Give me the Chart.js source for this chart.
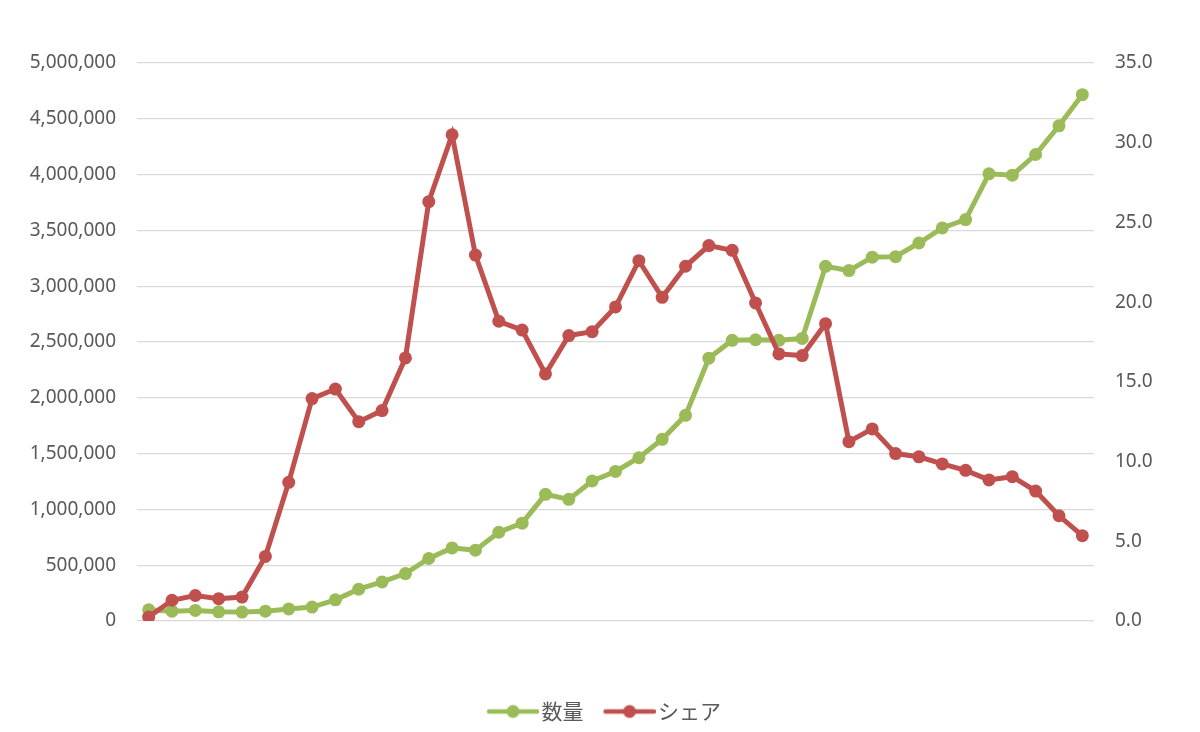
<!DOCTYPE html>
<html>
<head>
<meta charset="utf-8">
<script src="https://cdn.jsdelivr.net/npm/chart.js@4/dist/chart.umd.min.js"></script>
<style>
  html, body { margin: 0; padding: 0; background: #fff; }
  #wrap { width: 1200px; height: 732px; }
</style>
</head>
<body>
<div id="wrap"><canvas id="mainChart"></canvas></div>
<script>
const categories = [1, 2, 3, 4, 5, 6, 7, 8, 9, 10, 11, 12, 13, 14, 15, 16, 17, 18, 19, 20,
  21, 22, 23, 24, 25, 26, 27, 28, 29, 30, 31, 32, 33, 34, 35, 36, 37, 38, 39, 40, 41];

const quantity = [100000, 88000, 95000, 82000, 80000, 88000, 108000, 125000, 190000, 285000,
  350000, 425000, 560000, 655000, 635000, 795000, 877000, 1135000, 1090000, 1255000,
  1340000, 1463000, 1628000, 1843000, 2355000, 2515000, 2520000, 2515000, 2532000, 3178000,
  3140000, 3260000, 3265000, 3387000, 3522000, 3597000, 4007000, 3995000, 4180000, 4437000,
  4716000];

const share = [0.25, 1.3, 1.6, 1.4, 1.5, 4.05, 8.7, 13.95, 14.55, 12.5,
  13.2, 16.5, 26.3, 30.5, 22.95, 18.8, 18.25, 15.5, 17.9, 18.15,
  19.7, 22.6, 20.3, 22.25, 23.55, 23.25, 19.95, 16.75, 16.65, 18.65,
  11.25, 12.05, 10.5, 10.3, 9.85, 9.45, 8.85, 9.05, 8.15, 6.6,
  5.35];

const seriesNames = ["数量", "シェア"];
const leftTicks = [0, 500000, 1000000, 1500000, 2000000, 2500000, 3000000, 3500000, 4000000, 4500000, 5000000];
const rightTicks = [0, 5, 10, 15, 20, 25, 30, 35];

const GREEN = "#9BBB59";
const RED = "#C0504D";
const TEXT = "#595959";

// legend marker: short line with a dot, placed right in its canvas
// so it sits close to the label text
function legendMarker(color) {
  const c = document.createElement("canvas");
  c.width = 68; c.height = 16;
  const g = c.getContext("2d");
  g.strokeStyle = color;
  g.lineWidth = 4.5;
  g.lineCap = "round";
  g.beginPath(); g.moveTo(18, 8); g.lineTo(66, 8); g.stroke();
  g.fillStyle = color;
  g.beginPath(); g.arc(42, 8, 6.5, 0, Math.PI * 2); g.fill();
  return c;
}
const markers = [legendMarker(GREEN), legendMarker(RED)];

const tickFont = { family: "'Noto Sans', 'DejaVu Sans', sans-serif", size: 19 };

new Chart(document.getElementById("mainChart"), {
  type: "line",
  data: {
    labels: categories,
    datasets: [
      {
        label: seriesNames[0],
        data: quantity,
        yAxisID: "y",
        borderColor: GREEN,
        backgroundColor: GREEN,
        borderWidth: 5,
        pointRadius: 6.5,
        pointHoverRadius: 6.5,
        pointBorderWidth: 0,
        tension: 0,
        order: 2
      },
      {
        label: seriesNames[1],
        data: share,
        yAxisID: "y1",
        borderColor: RED,
        backgroundColor: RED,
        borderWidth: 5,
        pointRadius: 6.5,
        pointHoverRadius: 6.5,
        pointBorderWidth: 0,
        tension: 0,
        order: 1
      }
    ]
  },
  options: {
    responsive: true,
    maintainAspectRatio: false,
    animation: false,
    layout: { padding: { top: 63, bottom: 0, left: 0, right: 0 } },
    scales: {
      x: {
        offset: true,
        grid: { display: false },
        border: { display: false },
        ticks: { display: false },
        afterFit: (s) => { s.height = 68; }
      },
      y: {
        position: "left",
        min: 0,
        max: 5000000,
        afterBuildTicks: (s) => { s.ticks = leftTicks.map(v => ({ value: v })); },
        grid: { color: "#D9D9D9", lineWidth: 1.3, drawTicks: false },
        border: { display: false },
        ticks: {
          color: TEXT,
          font: tickFont,
          padding: 21,
          callback: (v) => v.toLocaleString("en-US")
        },
        afterFit: (s) => { s.width = 137; }
      },
      y1: {
        position: "right",
        min: 0,
        max: 35,
        afterBuildTicks: (s) => { s.ticks = rightTicks.map(v => ({ value: v })); },
        grid: { display: false, drawTicks: false },
        border: { display: false },
        ticks: {
          color: TEXT,
          font: tickFont,
          padding: 21,
          callback: (v) => Number(v).toFixed(1)
        },
        afterFit: (s) => { s.width = 106; }
      }
    },
    plugins: {
      tooltip: { enabled: false },
      legend: {
        position: "bottom",
        labels: {
          usePointStyle: true,
          pointStyleWidth: 52,
          padding: 12,
          color: TEXT,
          font: { family: "'Noto Sans CJK JP', 'Noto Sans', sans-serif", size: 21 },
          generateLabels: (chart) => chart.data.datasets.map((ds, i) => ({
            text: ds.label,
            fillStyle: ds.borderColor,
            strokeStyle: ds.borderColor,
            fontColor: TEXT,
            lineWidth: 0,
            pointStyle: markers[i],
            hidden: false,
            datasetIndex: i
          }))
        }
      }
    }
  }
});
</script>
</body>
</html>
